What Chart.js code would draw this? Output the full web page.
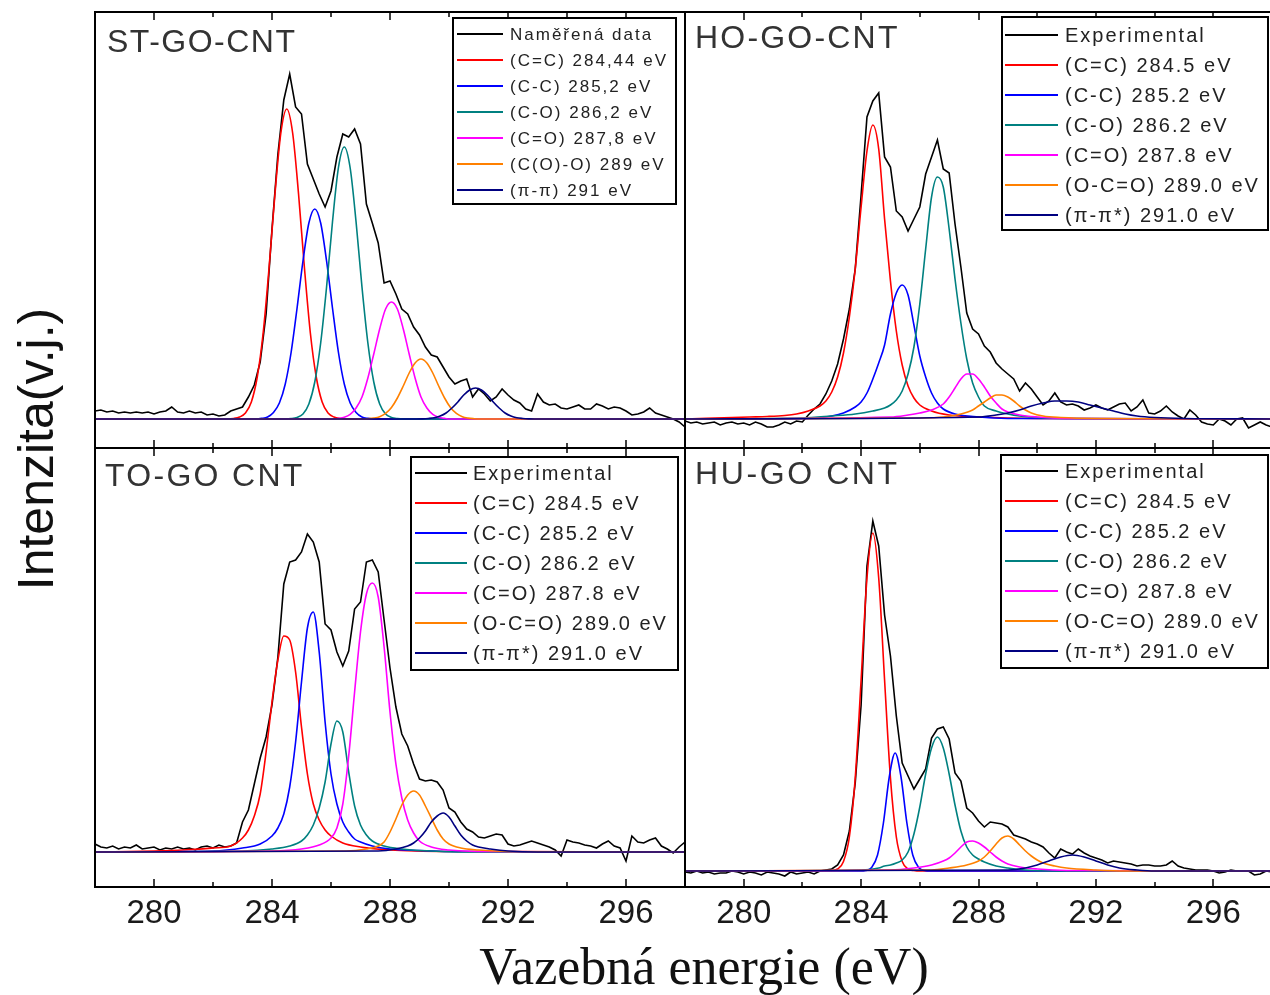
<!DOCTYPE html>
<html>
<head>
<meta charset="utf-8">
<script src="https://cdn.jsdelivr.net/npm/chart.js@4.4.0/dist/chart.umd.min.js"></script>
<style>
  html, body { margin: 0; padding: 0; background: #fff; }
  body { position: relative; width: 1270px; height: 995px; overflow: hidden; }
  canvas { position: absolute; }
  #ytitle {
    position: absolute; left: 36px; top: 449px;
    transform: translate(-50%, -50%) rotate(-90deg);
    font: 50px "Liberation Sans", Arial, sans-serif; line-height: 1;
    white-space: nowrap; color: #111;
  }
  #xtitle {
    position: absolute; left: 704px; top: 941px;
    transform: translateX(-50%);
    font: 52px "Liberation Serif", "Times New Roman", serif; line-height: 1;
    white-space: nowrap; color: #111;
  }
</style>
</head>
<body>
<canvas id="st"></canvas>
<canvas id="ho"></canvas>
<canvas id="to"></canvas>
<canvas id="hu"></canvas>
<div id="ytitle">Intenzita(v.j.)</div>
<div id="xtitle">Vazebná energie (eV)</div>
<script>
// binding energy grid of the measured spectra: 278.0 ... 298.0 eV, step 0.2
const eStart = 278
const eStep = 0.2

const tickLabels = [280, 284, 288, 292, 296]
const minorTicks = [282, 286, 290, 294]

const colors = ['#000000', '#ff0000', '#0000ff', '#008080', '#ff00ff', '#ff8000', '#000080']

const labelsST = ['Naměřená data', '(C=C) 284,44 eV', '(C-C) 285,2 eV', '(C-O) 286,2 eV',
  '(C=O) 287,8 eV', '(C(O)-O) 289 eV', '(π-π) 291 eV']
const labelsOther = ['Experimental', '(C=C) 284.5 eV', '(C-C) 285.2 eV', '(C-O) 286.2 eV',
  '(C=O) 287.8 eV', '(O-C=O) 289.0 eV', '(π-π*) 291.0 eV']

// measured intensity (a.u.), one row = 2 eV
const expST = [
  8, 9, 7, 8, 6, 7, 6, 7, 6, 7,
  5, 7, 8, 12, 7, 6, 8, 6, 7, 4,
  5, 3, 4, 8, 10, 12, 22, 34, 57, 105,
  190, 265, 319, 345, 312, 305, 255, 240, 225, 212,
  228, 262, 285, 282, 290, 275, 215, 196, 176, 136,
  138, 125, 110, 105, 92, 84, 72, 64, 62, 52,
  42, 35, 38, 40, 22, 30, 25, 18, 22, 30,
  24, 19, 16, 10, 8, 25, 17, 14, 15, 11,
  10, 12, 14, 10, 10, 15, 13, 10, 12, 11,
  8, 4, 5, 7, 11, 6, 4, 2, 0, -3,
  -8]
const expHO = [
  -2, -4, -3, -5, -4, -3, -6, -4, -3, -5,
  -4, -6, -3, -5, -8, -8, -6, -3, -5, -2,
  -3, 4, 10, 15, 25, 38, 55, 80, 110, 150,
  224, 302, 318, 326, 262, 252, 208, 202, 188, 200,
  212, 245, 262, 279, 250, 246, 195, 152, 106, 90,
  85, 73, 67, 56, 50, 45, 40, 28, 36, 30,
  22, 14, 18, 26, 17, 14, 15, 13, 9, 11,
  14, 11, 9, 12, 15, 16, 8, 12, 19, 6,
  5, 8, 13, 7, 3, 0, 9, 4, -3, -5,
  -6, 0, -2, -6, 0, 1, -9, -6, -3, -6,
  -8]
const expTO = [
  8, 5, 4, 6, 3, 5, 4, 7, 3, 4,
  5, 2, 4, 3, 5, 3, 4, 2, 5, 6,
  4, 7, 5, 6, 9, 30, 42, 68, 94, 115,
  147, 195, 268, 290, 292, 300, 318, 310, 290, 228,
  222, 200, 186, 201, 243, 250, 290, 292, 280, 232,
  184, 145, 118, 106, 88, 73, 71, 72, 70, 62,
  44, 40, 30, 23, 20, 15, 14, 16, 18, 17,
  8, 6, 7, 9, 11, 9, 7, 5, 2, -4,
  12, 10, 9, 7, 6, 4, 8, 11, 6, 4,
  -9, 16, 10, 9, 12, 14, 6, 3, -1, 5,
  10]
const expHU = [
  -1, -2, 0, -2, -1, -3, -2, -2, 0, -1,
  -3, -1, -2, -4, -1, -2, -3, -5, -1, -3,
  -2, -1, -3, 0, 1, 2, 6, 16, 40, 88,
  166, 305, 350, 325, 256, 215, 155, 108, 95, 82,
  92, 102, 133, 142, 144, 132, 98, 90, 63, 58,
  50, 44, 49, 48, 47, 44, 36, 34, 32, 29,
  27, 24, 18, 13, 22, 19, 17, 22, 18, 15,
  13, 11, 8, 10, 9, 8, 7, 5, 6, 6,
  5, 5, 6, 10, 5, 3, 2, 1, 1, 1,
  0, -2, -1, 1, 0, 0, 0, -4, -3, 0,
  -1]

// fitted components, [energy eV, intensity]
const stCC = [[282.5,0],[282.7,0.5],[282.9,2],[283.1,6],[283.3,17],[283.5,42],[283.7,86],[283.9,151],[284.1,225],[284.3,286],[284.5,310],[284.7,286],[284.9,225],[285.1,151],[285.3,86],[285.5,42],[285.7,17],[285.9,6],[286.1,2],[286.3,0.5],[286.5,0]]
const stCC2 = [[283.45,0],[283.65,0.6],[283.85,2],[284.05,6.5],[284.25,16],[284.45,35],[284.65,67],[284.85,111],[285.05,158],[285.25,196],[285.45,210],[285.65,196],[285.85,158],[286.05,111],[286.25,67],[286.45,35],[286.65,16],[286.85,6.5],[287.05,2],[287.25,0.6],[287.45,0]]
const stCO = [[284.45,0],[284.65,0.4],[284.85,1.6],[285.05,5],[285.25,15],[285.45,37],[285.65,76],[285.85,132],[286.05,197],[286.25,251],[286.45,272],[286.65,251],[286.85,197],[287.05,132],[287.25,76],[287.45,37],[287.65,15],[287.85,5],[288.05,1.6],[288.25,0.4],[288.45,0]]
const stCdO = [[286.05,0],[286.25,0.6],[286.45,1.7],[286.65,4.6],[286.85,11],[287.05,22],[287.25,41],[287.45,65],[287.65,90],[287.85,110],[288.05,117],[288.25,110],[288.45,90],[288.65,65],[288.85,41],[289.05,22],[289.25,11],[289.45,4.6],[289.65,1.7],[289.85,0.6],[290.05,0]]
const stOCO = [[287.05,0],[287.25,0.3],[287.45,0.9],[287.65,2.3],[287.85,5.6],[288.05,11.5],[288.25,21],[288.45,33],[288.65,46],[288.85,56],[289.05,60],[289.25,56],[289.45,46],[289.65,33],[289.85,21],[290.05,11.5],[290.25,5.6],[290.45,2.3],[290.65,0.9],[290.85,0.3],[291.05,0]]
const stPi = [[288.9,0],[289.1,0.15],[289.3,0.5],[289.5,1.2],[289.7,2.9],[289.9,6],[290.1,11],[290.3,17],[290.5,24],[290.7,29],[290.9,31],[291.1,29],[291.3,24],[291.5,17],[291.7,11],[291.9,6],[292.1,2.9],[292.3,1.2],[292.5,0.5],[292.7,0.15],[292.9,0]]

const hoCC = [[280.2,2],[280.8,2.5],[281.4,3.5],[281.8,5],[282.2,8],[282.6,13],[282.8,18],[283.0,27],[283.2,42],[283.4,66],[283.6,102],[283.8,150],[284.0,212],[284.2,268],[284.4,294],[284.6,270],[284.8,200],[285.0,138],[285.2,88],[285.4,54],[285.6,33],[285.8,21],[286.0,14],[286.4,8],[287.0,4],[288.0,2],[290.0,0.5]]
const hoCC2 = [[282.4,1],[283.0,3],[283.4,6],[283.8,12],[284.0,17],[284.2,26],[284.4,40],[284.6,56],[284.8,74],[285.0,105],[285.2,126],[285.4,134],[285.6,124],[285.8,94],[286.0,63],[286.2,42],[286.4,26],[286.6,16],[286.8,10],[287.2,5],[288.0,2],[289.0,0.5]]
const hoCO = [[282.0,1],[283.0,3],[283.8,5],[284.4,8],[284.8,11],[285.0,14],[285.2,19],[285.4,28],[285.6,45],[285.8,72],[286.0,115],[286.2,170],[286.4,222],[286.6,242],[286.8,232],[287.0,190],[287.2,140],[287.4,96],[287.6,60],[287.8,36],[288.0,22],[288.2,13],[288.6,8],[289.0,5],[289.4,3],[290.0,1.5],[291.0,0.5]]
const hoCdO = [[285.0,2],[285.6,4],[286.0,6],[286.4,9],[286.8,15],[287.0,22],[287.2,31],[287.4,40],[287.6,45],[287.8,45],[288.0,40],[288.2,32],[288.4,23],[288.6,16],[288.8,10],[289.0,7],[289.4,4],[290.0,2],[291.0,0.5]]
const hoOCO = [[286.0,1],[286.8,2],[287.4,5],[287.8,9],[288.0,13],[288.2,17],[288.4,21],[288.6,24],[288.8,24],[289.0,22],[289.2,18],[289.4,13],[289.6,9],[289.8,6],[290.2,3],[290.8,1.5],[292.0,0.5]]
const hoPi = [[288.0,2],[288.6,4],[289.0,6],[289.4,9],[289.8,13],[290.2,16],[290.6,18],[291.0,18],[291.4,17],[291.8,14],[292.2,11],[292.6,8],[293.0,5],[293.4,3],[294.0,1.5],[295.0,0.5]]

const toCC = [[280.0,1],[281.0,2],[282.0,4],[282.6,6],[283.0,14],[283.2,22],[283.4,36],[283.6,58],[283.8,100],[284.0,150],[284.2,192],[284.4,216],[284.6,212],[284.8,180],[285.0,125],[285.2,78],[285.4,48],[285.6,32],[285.8,22],[286.0,16],[286.4,9],[287.0,5],[288.0,2],[290.0,0.5]]
const toCC2 = [[282.0,1],[283.0,4],[283.6,8],[284.0,16],[284.2,24],[284.4,38],[284.6,65],[284.8,110],[285.0,170],[285.2,224],[285.4,240],[285.6,200],[285.8,130],[286.0,78],[286.2,48],[286.4,30],[286.6,20],[286.8,13],[287.0,10],[287.4,6],[288.0,3],[289.0,1.5],[290.0,0.5]]
const toCO = [[283.0,1],[284.0,3],[284.6,6],[285.0,11],[285.2,17],[285.4,27],[285.6,44],[285.8,70],[286.0,108],[286.2,131],[286.4,120],[286.6,80],[286.8,46],[287.0,27],[287.2,17],[287.4,11],[287.8,6],[288.4,3],[289.4,1],[290.5,0]]
const toCdO = [[284.0,1],[285.0,3],[285.6,7],[286.0,14],[286.2,24],[286.4,48],[286.6,96],[286.8,160],[287.0,220],[287.2,258],[287.4,269],[287.6,255],[287.8,205],[288.0,140],[288.2,88],[288.4,54],[288.6,32],[288.8,19],[289.0,11],[289.4,5],[290.0,2],[291.0,0.5]]
const toOCO = [[286.5,1],[287.2,3],[287.6,6],[287.8,10],[288.0,20],[288.2,33],[288.4,47],[288.6,57],[288.8,61],[289.0,57],[289.2,46],[289.4,34],[289.6,22],[289.8,13],[290.0,8],[290.4,4],[291.0,2],[292.0,0.5]]
const toPi = [[287.6,1],[288.2,3],[288.6,6],[288.8,9],[289.0,14],[289.2,21],[289.4,30],[289.6,36],[289.8,39],[290.0,35],[290.2,26],[290.4,17],[290.6,11],[290.8,7],[291.0,5],[291.4,3],[292.0,1],[293.0,0]]

const huCC = [[283.0,0.5],[283.2,2],[283.4,9.5],[283.6,34],[283.8,93],[284.0,191],[284.2,293],[284.4,338],[284.6,293],[284.8,191],[285.0,93],[285.2,34],[285.4,9.5],[285.6,2],[285.8,0.5],[286.0,0]]
const huCC2 = [[283.96,0],[284.16,0.5],[284.36,3.4],[284.56,16],[284.76,48],[284.96,94],[285.16,118],[285.36,94],[285.56,48],[285.76,16],[285.96,3.4],[286.16,0.5],[286.36,0]]
const huCO = [[284.0,1],[284.6,3],[284.8,5],[285.0,6],[285.2,8],[285.4,11],[285.6,19],[285.8,37],[286.0,64],[286.2,97],[286.4,123],[286.6,134],[286.8,123],[287.0,97],[287.2,66],[287.4,40],[287.6,24],[287.8,16],[288.0,12],[288.2,9],[288.6,5],[289.0,3],[289.6,1],[290.4,0]]
const huCdO = [[285.0,1],[285.8,3],[286.4,6],[286.8,10],[287.0,13],[287.2,18],[287.4,24],[287.6,29],[287.8,30],[288.0,28],[288.2,24],[288.4,19],[288.6,14],[288.8,10],[289.0,7],[289.4,4],[290.0,2],[291.0,0.5]]
const huOCO = [[286.4,1],[287.0,3],[287.6,6],[288.0,10],[288.2,14],[288.4,20],[288.6,27],[288.8,33],[289.0,35],[289.2,32],[289.4,26],[289.6,20],[289.8,15],[290.0,11],[290.2,8],[290.6,5],[291.0,3],[292.0,1],[293.0,0]]
const huPi = [[289.0,1],[289.6,3],[290.0,6],[290.4,10],[290.8,14],[291.2,16],[291.6,14],[292.0,10],[292.4,6],[292.8,3],[293.4,1],[294.0,0]]

const FONT = '"Liberation Sans", Arial, sans-serif'

// page layout of the four panels (plot box in page pixels)
const panels = [
  { id: 'st', left: 95, top: 12, right: 685, bottom: 448, yMin: -29, yMax: 407, name: 'ST-GO-CNT',
    exp: expST, fits: [stCC, stCC2, stCO, stCdO, stOCO, stPi], labels: labelsST, ticks: false,
    nameAt: [12, 40, 1.5],
    leg: { x: 358, y: 6, w: 223, h: 186, row0: 22, rowH: 26, l0: 362, l1: 408, tx: 415, size: 17 } },
  { id: 'ho', left: 685, top: 12, right: 1272, bottom: 448, yMin: -29, yMax: 407, name: 'HO-GO-CNT',
    exp: expHO, fits: [hoCC, hoCC2, hoCO, hoCdO, hoOCO, hoPi], labels: labelsOther, ticks: false,
    nameAt: [10, 36, 2.2],
    leg: { x: 317, y: 5, w: 266, h: 213, row0: 23, rowH: 30, l0: 320, l1: 373, tx: 380, size: 20 } },
  { id: 'to', left: 95, top: 448, right: 685, bottom: 887, yMin: -35, yMax: 404, name: 'TO-GO CNT',
    exp: expTO, fits: [toCC, toCC2, toCO, toCdO, toOCO, toPi], labels: labelsOther, ticks: true,
    nameAt: [10, 38, 2.3],
    leg: { x: 316, y: 9, w: 267, h: 213, row0: 25, rowH: 30, l0: 320, l1: 372, tx: 378, size: 20 } },
  { id: 'hu', left: 685, top: 448, right: 1272, bottom: 887, yMin: -16, yMax: 423, name: 'HU-GO CNT',
    exp: expHU, fits: [huCC, huCC2, huCO, huCdO, huOCO, huPi], labels: labelsOther, ticks: true,
    nameAt: [10, 36, 2.6],
    leg: { x: 316, y: 7, w: 267, h: 213, row0: 23, rowH: 30, l0: 320, l1: 373, tx: 380, size: 20 } }
]

function line(ctx, x0, y0, x1, y1) {
  ctx.beginPath()
  ctx.moveTo(x0, y0)
  ctx.lineTo(x1, y1)
  ctx.stroke()
}

const framePlugin = {
  id: 'panelFrame',
  afterDraw(chart, args, opts) {
    const ctx = chart.ctx
    const a = chart.chartArea
    const x = chart.scales.x
    ctx.save()
    ctx.strokeStyle = '#000'
    ctx.lineWidth = 1.5
    tickLabels.concat(minorTicks).forEach(e => {
      const px = Math.round(x.getPixelForValue(e))
      const len = tickLabels.includes(e) ? 8 : 5
      line(ctx, px, a.top, px, a.top + len)
      line(ctx, px, a.bottom, px, a.bottom - len)
    })
    ctx.lineWidth = 2
    ctx.strokeRect(a.left, a.top, a.right - a.left, a.bottom - a.top)

    if (opts.ticks) {
      ctx.fillStyle = '#1a1a1a'
      ctx.font = '33px ' + FONT
      ctx.textAlign = 'center'
      ctx.textBaseline = 'middle'
      tickLabels.forEach(e => ctx.fillText(String(e), x.getPixelForValue(e), a.bottom + 27))
    }

    // sample name
    ctx.fillStyle = '#333'
    ctx.font = '32px ' + FONT
    ctx.textAlign = 'left'
    ctx.textBaseline = 'alphabetic'
    ctx.letterSpacing = opts.nameAt[2] + 'px'
    ctx.fillText(opts.name, a.left + opts.nameAt[0], a.top + opts.nameAt[1])

    // legend box
    const lg = opts.leg
    ctx.letterSpacing = '2px'
    ctx.fillStyle = '#fff'
    ctx.fillRect(a.left + lg.x, a.top + lg.y, lg.w, lg.h)
    ctx.strokeStyle = '#000'
    ctx.lineWidth = 2
    ctx.strokeRect(a.left + lg.x, a.top + lg.y, lg.w, lg.h)
    ctx.font = lg.size + 'px ' + FONT
    ctx.textBaseline = 'middle'
    chart.data.datasets.forEach((ds, i) => {
      const yy = a.top + lg.row0 + i * lg.rowH
      ctx.strokeStyle = ds.borderColor
      ctx.lineWidth = 2
      line(ctx, a.left + lg.l0, yy, a.left + lg.l1, yy)
      ctx.fillStyle = '#222'
      ctx.fillText(ds.label, a.left + lg.tx, yy + 1)
    })
    ctx.restore()
  }
}

const pad = 4
panels.forEach(p => {
  const padBottom = p.ticks ? 50 : pad
  const canvas = document.getElementById(p.id)
  canvas.width = p.right - p.left + 2 * pad
  canvas.height = p.bottom - p.top + pad + padBottom
  canvas.style.left = (p.left - pad) + 'px'
  canvas.style.top = (p.top - pad) + 'px'

  const datasets = [{
    label: p.labels[0],
    data: p.exp.map((v, i) => ({ x: eStart + i * eStep, y: v })),
    borderColor: colors[0],
    borderWidth: 1.6,
    tension: 0,
    order: 6
  }]
  p.fits.forEach((f, k) => {
    const pts = [[278, 0]].concat(f, [[298, 0]])
    datasets.push({
      label: p.labels[k + 1],
      data: pts.map(([e, v]) => ({ x: e, y: v })),
      borderColor: colors[k + 1],
      borderWidth: 1.6,
      cubicInterpolationMode: 'monotone',
      order: 5 - k
    })
  })

  new Chart(canvas, {
    type: 'line',
    data: { datasets },
    options: {
      responsive: false,
      animation: false,
      devicePixelRatio: 1,
      layout: { padding: { left: pad, right: pad, top: pad, bottom: padBottom } },
      elements: { point: { radius: 0 } },
      plugins: {
        legend: { display: false },
        tooltip: { enabled: false },
        panelFrame: { name: p.name, nameAt: p.nameAt, leg: p.leg, ticks: p.ticks }
      },
      scales: {
        x: { type: 'linear', min: 278, max: 298, display: false },
        y: { type: 'linear', min: p.yMin, max: p.yMax, display: false }
      }
    },
    plugins: [framePlugin]
  })
})
</script>
</body>
</html>
